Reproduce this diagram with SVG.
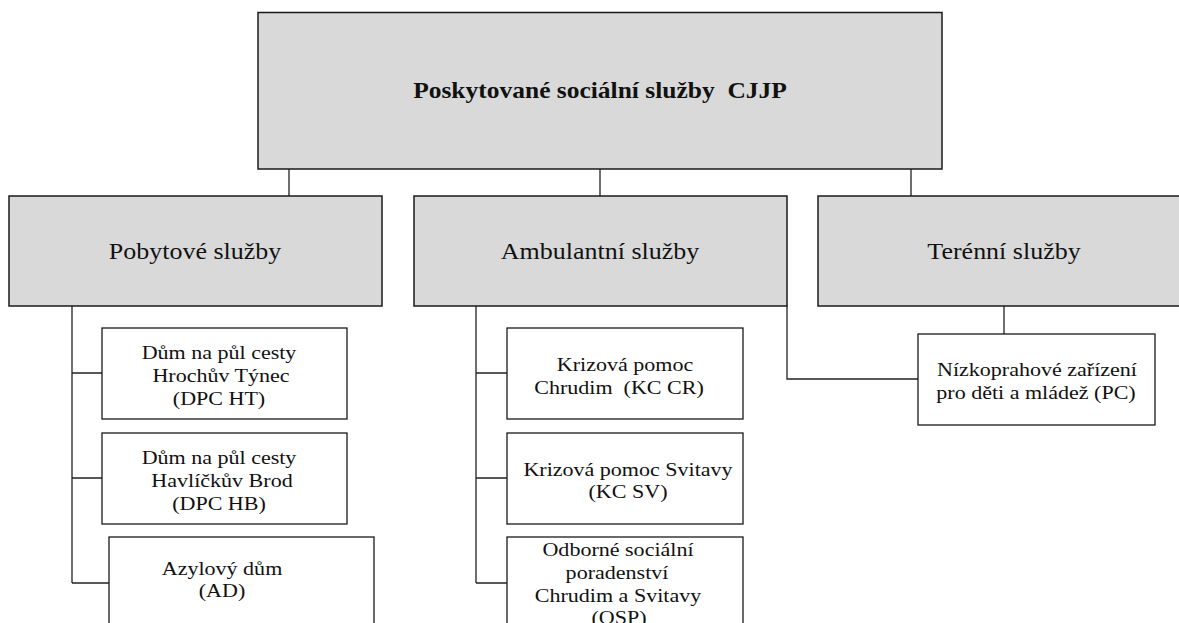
<svg xmlns="http://www.w3.org/2000/svg" width="1179" height="623" viewBox="0 0 1179 623">
<style>
.g{fill:#d9d9d9;stroke:#1a1a1a;stroke-width:1.5}
.w{fill:#ffffff;stroke:#1a1a1a;stroke-width:1.3}
.c{fill:none;stroke:#222;stroke-width:1.3}
text{font-family:"Liberation Serif","Times New Roman",serif;fill:#111;text-anchor:middle}
.t{font-size:23.5px;font-weight:bold;white-space:pre}
.m{font-size:24px}
.s{font-size:19px}
</style>
<rect width="1179" height="623" fill="#fff"/>
<g id="connectors">
<path class="c" d="M289,169V196M600,169V196M911,169V196"/>
<path class="c" d="M72,306V583M72,373H102M72,478H102M72,583H109"/>
<path class="c" d="M476,306V583M476,373H507M476,478H507M476,583H507"/>
<path class="c" d="M787,306V379H918"/>
<path class="c" d="M1004,306V334"/>
</g>
<g id="root">
<rect class="g" x="258" y="12.5" width="684" height="156.5"/>
<text class="t" transform="matrix(1.085 0 0 1 600 0)" y="98" xml:space="preserve">Poskytované sociální služby  CJJP</text>
</g>
<g id="pobytove">
<rect class="g" x="9" y="196" width="373" height="110"/>
<text class="m" transform="matrix(1.083 0 0 1 195 0)" y="259">Pobytové služby</text>
</g>
<g id="ambulantni">
<rect class="g" x="414" y="196" width="373" height="110"/>
<text class="m" transform="matrix(1.083 0 0 1 600 0)" y="259">Ambulantní služby</text>
</g>
<g id="terenni">
<rect class="g" x="818" y="196" width="370" height="110"/>
<text class="m" transform="matrix(1.083 0 0 1 1004 0)" y="259">Terénní služby</text>
</g>
<g id="dpc-ht">
<rect class="w" x="102" y="328" width="245" height="91"/>
<text class="s" transform="matrix(1.16 0 0 1 219 0)" y="359">Dům na půl cesty</text>
<text class="s" transform="matrix(1.16 0 0 1 221 0)" y="382">Hrochův Týnec</text>
<text class="s" transform="matrix(1.16 0 0 1 219 0)" y="405">(DPC HT)</text>
</g>
<g id="dpc-hb">
<rect class="w" x="102" y="433" width="245" height="91"/>
<text class="s" transform="matrix(1.16 0 0 1 219 0)" y="464">Dům na půl cesty</text>
<text class="s" transform="matrix(1.16 0 0 1 222 0)" y="487">Havlíčkův Brod</text>
<text class="s" transform="matrix(1.16 0 0 1 219 0)" y="510">(DPC HB)</text>
</g>
<g id="ad">
<rect class="w" x="109" y="537" width="265" height="100"/>
<text class="s" transform="matrix(1.16 0 0 1 222 0)" y="575">Azylový dům</text>
<text class="s" transform="matrix(1.16 0 0 1 222 0)" y="597">(AD)</text>
</g>
<g id="kc-cr">
<rect class="w" x="507" y="328" width="236" height="91"/>
<text class="s" transform="matrix(1.16 0 0 1 625 0)" y="371">Krizová pomoc</text>
<text class="s" transform="matrix(1.16 0 0 1 619 0)" y="394" xml:space="preserve">Chrudim  (KC CR)</text>
</g>
<g id="kc-sv">
<rect class="w" x="507" y="433" width="236" height="91"/>
<text class="s" transform="matrix(1.16 0 0 1 628 0)" y="476">Krizová pomoc Svitavy</text>
<text class="s" transform="matrix(1.16 0 0 1 628 0)" y="498">(KC SV)</text>
</g>
<g id="osp">
<rect class="w" x="507" y="537" width="236" height="100"/>
<text class="s" transform="matrix(1.16 0 0 1 618 0)" y="556">Odborné sociální</text>
<text class="s" transform="matrix(1.16 0 0 1 617 0)" y="579">poradenství</text>
<text class="s" transform="matrix(1.16 0 0 1 618 0)" y="602">Chrudim a Svitavy</text>
<text class="s" transform="matrix(1.16 0 0 1 619 0)" y="624">(OSP)</text>
</g>
<g id="pc">
<rect class="w" x="918" y="334" width="237" height="91"/>
<text class="s" transform="matrix(1.16 0 0 1 1037 0)" y="376">Nízkoprahové zařízení</text>
<text class="s" transform="matrix(1.16 0 0 1 1036 0)" y="399">pro děti a mládež (PC)</text>
</g>
</svg>
